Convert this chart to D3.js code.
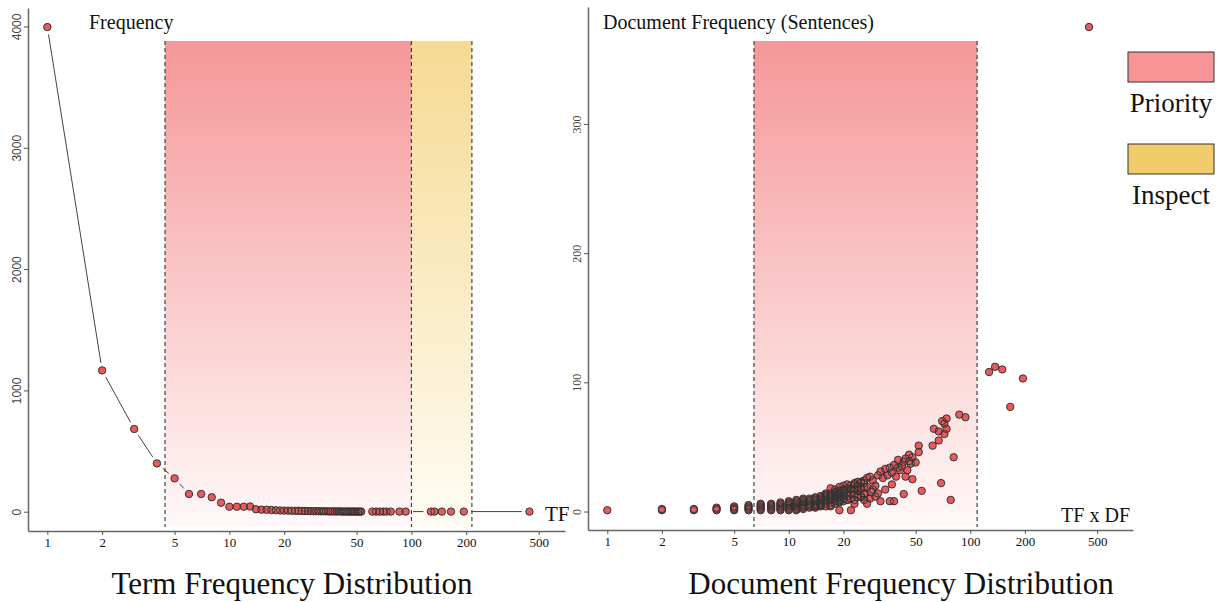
<!DOCTYPE html>
<html>
<head>
<meta charset="utf-8">
<script src="https://cdn.jsdelivr.net/npm/d3@7"></script>
<style>
  body { margin: 0; background: #fff; }
  svg { display: block; }
</style>
</head>
<body>
<svg id="chart"></svg>
<script>
// term frequency -> number of terms with that frequency
const tfLevels = [1, 2, 3, 4, 5, 6, 7, 8, 9, 10, 11, 12, 13, 14, 15, 16, 17, 18, 19, 20,
  21, 22, 23, 24, 25, 26, 27, 28, 29, 30, 31, 32, 33, 34, 35, 36, 37, 38, 39, 40,
  41, 42, 43, 44, 45, 46, 47, 48, 49, 50, 51, 52, 53,
  61, 64, 67, 70, 73, 77, 86, 93, 128, 134, 147, 165, 194, 445];
const tfTermCounts = [3995, 1165, 682, 398, 275, 146, 146, 119, 74, 41, 41, 41, 43, 20, 17, 16, 14, 12, 10, 9,
  9, 8, 7, 8, 6, 6, 5, 5, 4, 5, 4, 3, 4, 3, 3, 2, 3, 2, 2, 3,
  2, 1, 2, 1, 2, 1, 1, 2, 1, 1, 1, 1, 1,
  1, 1, 1, 1, 1, 1, 1, 1, 1, 1, 1, 1, 1, 1];

// TF x DF: columns of low-frequency terms [tf, sentence counts]
const dfColumns = [
  [1, [1]],
  [2, [1, 2]],
  [3, [1, 2]],
  [4, [1, 2, 3]],
  [5, [1, 2, 3, 4]],
  [6, [1, 2, 3, 4, 5]],
  [7, [1, 2, 3, 4, 5, 6]],
  [8, [1, 2, 3, 4, 5, 6]],
  [9, [1, 2, 3, 4, 5, 6, 7]],
  [10, [1, 2, 3, 4, 5, 6, 7, 8]],
  [11, [2, 3, 4, 5, 6, 7, 8, 9]],
  [12, [2, 3, 4, 5, 6, 7, 8, 9, 10]],
  [13, [3, 4, 5, 6, 7, 8, 9, 10]],
  [14, [3, 4, 5, 6, 7, 8, 9, 10, 11]],
  [15, [4, 5, 6, 7, 8, 9, 10, 11, 12]],
  [16, [4, 6, 8, 9, 10, 11, 12, 13]],
  [17, [5, 7, 9, 10, 11, 12, 13, 14]],
  [18, [6, 8, 10, 12, 13, 14, 15]],
  [19, [7, 9, 11, 13, 15, 16]],
  [20, [8, 10, 12, 14, 16, 17]],
  [21, [9, 12, 15, 18]],
  [22, [10, 14, 18, 20]],
  [23, [9, 13, 17, 21]],
  [24, [11, 16, 20, 23]],
  [25, [12, 18, 22]],
  [26, [14, 19, 24]]
];
// TF x DF: scattered terms [tf, df]
const dfScatter = [
  [11, 1], [14, 4], [15, 5], [17, 4], [19, 1], [19, 8], [21, 9], [22, 1], [23, 6], [25, 11],
  [27, 6], [26, 13], [28.5, 15], [30, 11.5], [32, 8], [36, 8], [38, 8], [23, 22], [21, 21], [25, 23],
  [27, 26], [27, 19], [16, 14], [18, 17], [19, 19], [17, 18], [28, 27], [31, 28], [32, 31], [34, 33],
  [37, 30], [39, 27], [37, 21], [34, 17], [43, 13.5], [54, 16], [69, 22], [78, 9], [40, 40], [43, 38.5],
  [47, 37], [46, 44], [41, 32], [44, 27], [45, 32], [48, 25], [52, 51], [52, 46], [62, 51], [81, 42],
  [63, 64], [67, 62], [74, 64], [72, 60], [67, 55], [70, 70], [72, 68], [74, 72], [87, 75], [94, 73],
  [20, 20], [22, 17], [24, 19], [26, 22], [29, 24], [30, 20], [33, 26], [35, 28], [36, 34], [38, 36],
  [40, 34], [42, 35], [44, 41], [46, 39], [48, 42], [50, 38], [31, 14], [29, 17], [24, 13], [26, 9], [28, 10],
  [127, 108], [137, 112], [150, 110], [195, 103], [166, 81], [451, 375]
];

const tfTicks = [1, 2, 5, 10, 20, 50, 100, 200, 500];
const leftYTicks = [0, 1000, 2000, 3000, 4000];
const rightYTicks = [0, 100, 200, 300];

// highlighted ranges on the x axis
const priorityTF = [4.43, 100];
const inspectTF = [100, 215];
const priorityTFxDF = [6.43, 109];

const legendItems = ["Priority", "Inspect"];

const svg = d3.select("#chart").attr("width", 1222).attr("height", 602);
const serif = "'Liberation Serif', 'Times New Roman', serif";
const pointRadius = 3.7;

const defs = svg.append("defs");
function addGradient(id, top, bottom) {
  const g = defs.append("linearGradient").attr("id", id)
    .attr("x1", 0).attr("y1", 0).attr("x2", 0).attr("y2", 1);
  g.append("stop").attr("offset", "0%").attr("stop-color", top);
  g.append("stop").attr("offset", "100%").attr("stop-color", bottom);
}
addGradient("pinkFade", "#f59798", "#fff8f8");
addGradient("yellowFade", "#f5da92", "#fffcf4");

const bandTop = 41;
const bandBottom = 527;

function drawBand(x, range, gradient) {
  svg.append("rect")
    .attr("x", x(range[0]))
    .attr("y", bandTop)
    .attr("width", x(range[1]) - x(range[0]))
    .attr("height", bandBottom - bandTop)
    .attr("fill", "url(#" + gradient + ")");
}

function drawDashed(x, value) {
  svg.append("line")
    .attr("x1", x(value)).attr("x2", x(value))
    .attr("y1", bandTop).attr("y2", bandBottom)
    .attr("stroke", "#333")
    .attr("stroke-width", 1.1)
    .attr("stroke-dasharray", "4,3");
}

function drawXAxis(x, y0) {
  const g = svg.append("g")
    .attr("transform", "translate(0," + y0 + ")")
    .call(d3.axisBottom(x).tickValues(tfTicks).tickFormat(d3.format("d"))
      .tickSize(4).tickSizeOuter(0).tickPadding(3));
  g.select(".domain").attr("stroke", "#666").attr("stroke-width", 1.5);
  g.selectAll(".tick line").attr("stroke", "#555");
  g.selectAll("text")
    .style("font-family", serif)
    .style("font-size", "13px")
    .attr("fill", "#111");
}

function drawYAxis(y, x0, ticks, font) {
  const g = svg.append("g")
    .attr("transform", "translate(" + x0 + ",0)")
    .call(d3.axisLeft(y).tickValues(ticks).tickFormat(d3.format("d"))
      .tickSize(4).tickSizeOuter(0));
  g.select(".domain").attr("stroke", "#666").attr("stroke-width", 1.5);
  g.selectAll(".tick line").attr("stroke", "#555");
  g.selectAll("text")
    .attr("transform", "rotate(-90)")
    .attr("x", 0)
    .attr("y", -7)
    .attr("dy", 0)
    .attr("text-anchor", "middle")
    .style("font-family", font)
    .style("font-size", "12px")
    .attr("fill", "#444");
}

// fills first, outlines on top, so dense runs of points read dark
function drawPoints(points, x, y) {
  const g = svg.append("g");
  g.append("g")
    .selectAll("circle")
    .data(points)
    .enter()
    .append("circle")
    .attr("cx", function (d) { return x(d[0]); })
    .attr("cy", function (d) { return y(d[1]); })
    .attr("r", pointRadius)
    .attr("fill", "#ea5a5c");
  g.append("g")
    .selectAll("circle")
    .data(points)
    .enter()
    .append("circle")
    .attr("cx", function (d) { return x(d[0]); })
    .attr("cy", function (d) { return y(d[1]); })
    .attr("r", pointRadius)
    .attr("fill", "none")
    .attr("stroke", "#333")
    .attr("stroke-width", 1);
}

// ---------- left panel: term frequency ----------
const xLeft = d3.scaleLog().domain([0.783, 698]).range([28, 565]);
const yLeft = d3.scaleLinear().domain([-159, 4152]).range([531, 8]);

drawBand(xLeft, priorityTF, "pinkFade");
drawBand(xLeft, inspectTF, "yellowFade");
[priorityTF[0], priorityTF[1], inspectTF[1]].forEach(function (v) { drawDashed(xLeft, v); });

drawXAxis(xLeft, 531);
drawYAxis(yLeft, 28, leftYTicks, "'Liberation Sans', Arial, sans-serif");

const tfPoints = tfLevels.map(function (t, i) { return [t, tfTermCounts[i]]; });

// connecting segments with a gap around each point
const gap = 7.5;
const segs = svg.append("g");
for (let i = 1; i < tfPoints.length; i++) {
  const x1 = xLeft(tfPoints[i - 1][0]), y1 = yLeft(tfPoints[i - 1][1]);
  const x2 = xLeft(tfPoints[i][0]), y2 = yLeft(tfPoints[i][1]);
  const len = Math.hypot(x2 - x1, y2 - y1);
  if (len <= gap * 2) continue;
  const ux = (x2 - x1) / len, uy = (y2 - y1) / len;
  segs.append("line")
    .attr("x1", x1 + ux * gap).attr("y1", y1 + uy * gap)
    .attr("x2", x2 - ux * gap).attr("y2", y2 - uy * gap)
    .attr("stroke", "#444")
    .attr("stroke-width", 1);
}
drawPoints(tfPoints, xLeft, yLeft);

svg.append("text")
  .attr("x", 89).attr("y", 29)
  .style("font-family", serif).style("font-size", "20px")
  .attr("fill", "#111")
  .text("Frequency");

svg.append("text")
  .attr("x", 545).attr("y", 521)
  .style("font-family", serif).style("font-size", "21px")
  .attr("fill", "#111")
  .text("TF");

svg.append("text")
  .attr("x", 292).attr("y", 594)
  .attr("text-anchor", "middle")
  .style("font-family", serif).style("font-size", "31px")
  .attr("fill", "#111")
  .text("Term Frequency Distribution");

// ---------- right panel: TF x DF ----------
const xRight = d3.scaleLog().domain([0.783, 788]).range([588, 1133]);
const yRight = d3.scaleLinear().domain([-14.3, 390.5]).range([530, 7]);

drawBand(xRight, priorityTFxDF, "pinkFade");
priorityTFxDF.forEach(function (v) { drawDashed(xRight, v); });

drawXAxis(xRight, 530);
drawYAxis(yRight, 588, rightYTicks, serif);

const dfPoints = [];
dfColumns.forEach(function (col) {
  col[1].forEach(function (df) { dfPoints.push([col[0], df]); });
});
dfScatter.forEach(function (p) { dfPoints.push(p); });
drawPoints(dfPoints, xRight, yRight);

svg.append("text")
  .attr("x", 603).attr("y", 29)
  .style("font-family", serif).style("font-size", "20px")
  .attr("fill", "#111")
  .text("Document Frequency (Sentences)");

svg.append("text")
  .attr("x", 1130).attr("y", 522)
  .attr("text-anchor", "end")
  .style("font-family", serif).style("font-size", "20px")
  .attr("fill", "#111")
  .text("TF x DF");

svg.append("text")
  .attr("x", 901).attr("y", 594)
  .attr("text-anchor", "middle")
  .style("font-family", serif).style("font-size", "31px")
  .attr("fill", "#111")
  .text("Document Frequency Distribution");

// ---------- legend ----------
const legendColors = ["#f79596", "#f2cc6b"];
legendItems.forEach(function (label, i) {
  const top = 52 + i * 92;
  svg.append("rect")
    .attr("x", 1128).attr("y", top)
    .attr("width", 86).attr("height", 30)
    .attr("fill", legendColors[i])
    .attr("stroke", "#333")
    .attr("stroke-width", 1);
  svg.append("text")
    .attr("x", 1171).attr("y", top + 60)
    .attr("text-anchor", "middle")
    .style("font-family", serif).style("font-size", "27px")
    .attr("fill", "#111")
    .text(label);
});
</script>
</body>
</html>
